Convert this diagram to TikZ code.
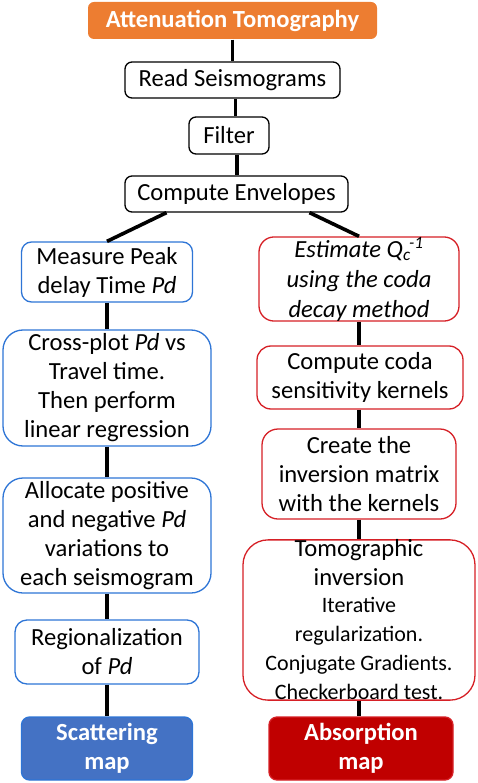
\documentclass[tikz,border=0pt]{standalone}
\usepackage{fontspec}
\setmainfont{Carlito}
\newcommand\tsmall{\fontsize{22}{26}\selectfont}
\begin{document}
\begin{tikzpicture}[x=1pt,y=-1pt,
  base/.style={draw, line width=1.3pt, align=center, inner sep=0pt, fill=white,
    font=\fontsize{24.6}{29}\selectfont},
  graybox/.style={base, draw=black, rounded corners=7pt},
  bluebox/.style={base, draw=blueline, rounded corners=#1},
  redbox/.style={base, draw=redline, rounded corners=#1},
  link/.style={line width=3.6pt, draw=black}]
\definecolor{blueline}{RGB}{46,117,214}
\definecolor{redline}{RGB}{214,32,38}
\definecolor{orangefill}{RGB}{237,125,49}
\definecolor{bluefill}{RGB}{68,114,196}
\definecolor{redfill}{RGB}{192,0,0}
\useasboundingbox (0,0) rectangle (477,783);

\node[base, draw=none, fill=orangefill, rounded corners=6pt, text=white,
  font=\fontsize{24.6}{29}\selectfont\bfseries,
  minimum width=289pt, minimum height=37pt] (title) at (232.5,20.5) {Attenuation Tomography};
\node[graybox, minimum width=215pt, minimum height=36pt] (read) at (232.5,80) {Read Seismograms};
\node[graybox, minimum width=80pt, minimum height=37pt] (filter) at (229,135.5) {Filter};
\node[graybox, minimum width=223pt, minimum height=36pt] (compute) at (236.5,194) {Compute Envelopes};

% left column
\node[bluebox=10pt, minimum width=171pt, minimum height=60pt] (measure) at (107,272)
  {Measure Peak\\delay Time \textit{Pd}};
\node[bluebox=20pt, minimum width=208pt, minimum height=116pt] (cross) at (107,388)
  {Cross-plot \textit{Pd} vs\\Travel time.\\Then perform\\linear regression};
\node[bluebox=20pt, minimum width=208pt, minimum height=115pt] (alloc) at (107,535.5)
  {Allocate positive\\and negative \textit{Pd}\\variations to\\each seismogram};
\node[bluebox=12pt, minimum width=184pt, minimum height=64pt] (region) at (107,652)
  {Regionalization\\of \textit{Pd}};
\node[base, draw=blueline, fill=bluefill, rounded corners=8pt, text=white,
  font=\fontsize{24.6}{29}\selectfont\bfseries,
  minimum width=171pt, minimum height=63pt] (scatter) at (107,748.5) {Scattering\\map};

% right column
\node[redbox=15pt, minimum width=200pt, minimum height=84pt,
  font=\fontsize{24.6}{30}\selectfont\itshape] (estimate) at (359,279)
  {Estimate Q\textsubscript{c}\kern-1.5pt\textsuperscript{-1}\\using the coda\\decay method};
\node[redbox=14pt, minimum width=206pt, minimum height=63pt] (coda) at (360,377.5)
  {Compute coda\\sensitivity kernels};
\node[redbox=16pt, minimum width=194pt, minimum height=90pt] (create) at (359,474)
  {Create the\\inversion matrix\\with the kernels};
\node[redbox=25pt, minimum width=232pt, minimum height=158pt] (tomo) at (359,620)
  {Tomographic\\inversion\\[-2pt]\tsmall Iterative\\\tsmall regularization.\\\tsmall Conjugate Gradients.\\\tsmall Checkerboard test.};
\node[base, draw=redline, fill=redfill, rounded corners=8pt, text=white,
  font=\fontsize{24.6}{29}\selectfont\bfseries,
  minimum width=184pt, minimum height=63pt] (absorb) at (361,748.5) {Absorption\\map};

% connectors
\draw[link] (title.south) -- (read.north);
\draw[link] ([xshift=3pt]read.south) -- ([xshift=3pt]read.south |- filter.north);
\draw[link] ([xshift=8pt]filter.south) -- ([xshift=8pt]filter.south |- compute.north);
\draw[link] ([xshift=-70pt]compute.south) -- (measure.north);
\draw[link] ([xshift=73pt]compute.south) -- (estimate.north);
\draw[link] (measure.south) -- (cross.north);
\draw[link] (cross.south) -- (alloc.north);
\draw[link] (alloc.south) -- (region.north);
\draw[link] (region.south) -- (scatter.north);
\draw[link] (estimate.south) -- (estimate.south |- coda.north);
\draw[link] (estimate.south |- coda.south) -- (estimate.south |- create.north);
\draw[link] (create.south) -- (tomo.north);
\draw[link] (tomo.south) -- (tomo.south |- absorb.north);
\end{tikzpicture}
\end{document}
